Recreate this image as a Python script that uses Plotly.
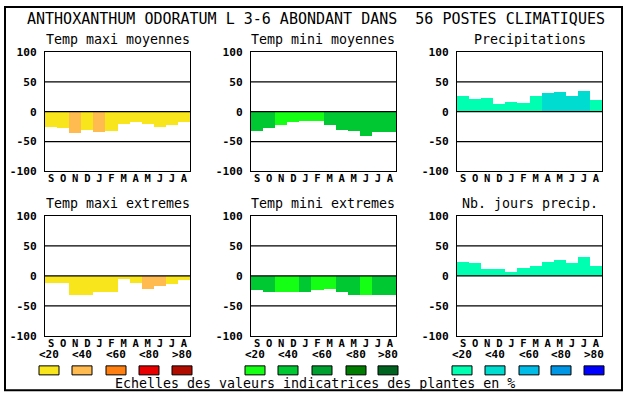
import plotly.graph_objects as go

# ---------------- data ----------------
MONTHS = ["S", "O", "N", "D", "J", "F", "M", "A", "M", "J", "J", "A"]
TITLE = "ANTHOXANTHUM ODORATUM L 3-6 ABONDANT DANS  56 POSTES CLIMATIQUES"
PANEL_TITLES = ["Temp maxi moyennes", "Temp mini moyennes", "Precipitations",
                "Temp maxi extremes", "Temp mini extremes", "Nb. jours precip."]

TMAX_MOY = [-25, -28, -36, -31, -34, -32, -21, -18, -21, -25, -22, -18]
TMAX_MOY_CLS = [0, 0, 1, 0, 1, 0, 0, 0, 0, 0, 0, 0]
TMIN_MOY = [-33, -28, -23, -18, -15, -16, -23, -31, -33, -41, -34, -34]
TMIN_MOY_CLS = [1, 1, 0, 0, 0, 0, 1, 1, 1, 1, 1, 1]
PRECIP = [27, 22, 23, 13, 17, 15, 27, 32, 33, 27, 35, 20]
PRECIP_CLS = [0, 0, 0, 0, 0, 0, 0, 1, 1, 1, 1, 0]
TMAX_EXT = [-11, -12, -31, -32, -26, -26, -5, -12, -21, -16, -14, -7]
TMAX_EXT_CLS = [0, 0, 0, 0, 0, 0, 0, 0, 1, 1, 0, 0]
TMIN_EXT = [-24, -26, -27, -26, -27, -24, -22, -27, -31, -32, -32, -31]
TMIN_EXT_CLS = [1, 1, 0, 0, 1, 0, 0, 1, 1, 0, 1, 1]
NB_JOURS = [23, 21, 12, 12, 7, 14, 16, 24, 26, 21, 31, 16]
NB_JOURS_CLS = [0, 0, 0, 0, 0, 0, 0, 0, 0, 0, 0, 0]

Y_TICKS = [-100, -50, 0, 50, 100]
Y_TICK_TEXT = ["-100", "-50", "0", "50", "100"]
GRID_LINES = [-50, 0, 50]

CLASS_LABELS = ["<20", "<40", "<60", "<80", ">80"]
YELLOWS = ["#f8e51c", "#ffbb50", "#ff8010", "#e80000", "#b00c00"]
GREENS = ["#14ff14", "#00c832", "#00a030", "#007d00", "#006420"]
BLUES = ["#00ffb0", "#00dcd0", "#00bce6", "#0096e6", "#0000ff"]
FOOTER = "Echelles des valeurs indicatrices des plantes en %"

# ---------------- layout helpers ----------------
W, H = 630, 402          # figure size in page pixels
V_SCALE, V_OFF = 0.968, 4.5   # observed page->picture vertical mapping
MONO = "DejaVu Sans Mono"

def fx(px):
    return px / W

def fy(py):
    # py: wanted vertical position in the final picture
    page_y = (py - V_OFF) / V_SCALE
    return 1 - page_y / H

COLS = [(45, 190), (251, 396), (457, 602)]
ROWS = [(50.5, 170), (214.5, 334.5)]

panels = [
    (TMAX_MOY, TMAX_MOY_CLS, YELLOWS),
    (TMIN_MOY, TMIN_MOY_CLS, GREENS),
    (PRECIP, PRECIP_CLS, BLUES),
    (TMAX_EXT, TMAX_EXT_CLS, YELLOWS),
    (TMIN_EXT, TMIN_EXT_CLS, GREENS),
    (NB_JOURS, NB_JOURS_CLS, BLUES),
]

fig = go.Figure()
shapes = []
annotations = []
xs = list(range(len(MONTHS)))

for i, (vals, cls, pal) in enumerate(panels):
    n = i + 1
    r, c = divmod(i, 3)
    xa = "x" if n == 1 else f"x{n}"
    ya = "y" if n == 1 else f"y{n}"
    fig.add_trace(go.Bar(
        x=xs, y=vals, width=1.0,
        marker=dict(color=[pal[k] for k in cls], line=dict(width=0)),
        xaxis=xa, yaxis=ya, showlegend=False, hoverinfo="skip",
    ))
    x0, x1 = COLS[c]
    y0, y1 = ROWS[r]
    common = dict(showline=True, mirror=True, linecolor="black", linewidth=1.2,
                  showgrid=False, zeroline=False, fixedrange=True)
    fig.layout[f"xaxis{'' if n == 1 else n}"] = dict(
        domain=[fx(x0), fx(x1)], range=[-0.5, len(MONTHS) - 0.5],
        anchor=ya, tickvals=xs, ticktext=MONTHS, ticks="", ticklabelstandoff=-3,
        tickfont=dict(family=MONO, size=10.5, color="black", weight="bold"),
        **common)
    fig.layout[f"yaxis{'' if n == 1 else n}"] = dict(
        domain=[fy(y1), fy(y0)], range=[-100, 100], anchor=xa,
        tickvals=Y_TICKS, ticktext=Y_TICK_TEXT,
        ticks="outside", ticklen=5, tickcolor="rgba(0,0,0,0)",
        tickfont=dict(family=MONO, size=11.2, color="black", weight="bold"),
        **common)
    for g in GRID_LINES:
        shapes.append(dict(type="line", xref=f"{xa} domain", yref=ya,
                           x0=0, x1=1, y0=g, y1=g, layer="above",
                           line=dict(color="black", width=1.2)))
    annotations.append(dict(
        text=PANEL_TITLES[i], xref="paper", yref="paper",
        x=fx((x0 + x1) / 2), y=fy(y0 - 12.5), xanchor="center", yanchor="middle",
        showarrow=False, font=dict(family=MONO, size=13.3, color="black")))

# main title
annotations.append(dict(
    text=TITLE, xref="paper", yref="paper", x=fx(315.5), y=fy(18),
    xanchor="center", yanchor="middle", showarrow=False,
    font=dict(family=MONO, size=15, color="black")))

# legend scales
SWATCH_X = [[39, 72, 106, 139, 172], [245, 278, 312, 346, 378], [452, 485, 519, 551, 584]]
for pal, sx in zip([YELLOWS, GREENS, BLUES], SWATCH_X):
    for k, (col, lab) in enumerate(zip(pal, CLASS_LABELS)):
        shapes.append(dict(type="rect", xref="paper", yref="paper",
                           x0=fx(sx[k]), x1=fx(sx[k] + 20), y0=fy(373.5), y1=fy(364.5),
                           fillcolor=col, line=dict(color="black", width=1)))
        annotations.append(dict(
            text=lab, xref="paper", yref="paper", x=fx(sx[k] + 10), y=fy(353),
            xanchor="center", yanchor="middle", showarrow=False,
            font=dict(family=MONO, size=11, color="black", weight="bold")))

annotations.append(dict(
    text=FOOTER, xref="paper", yref="paper", x=fx(314.5), y=fy(382),
    xanchor="center", yanchor="middle", showarrow=False,
    font=dict(family=MONO, size=13.3, color="black")))

# outer frame
shapes.append(dict(type="rect", xref="paper", yref="paper",
                   x0=fx(5), x1=fx(622), y0=fy(389), y1=fy(5.5),
                   line=dict(color="black", width=2), fillcolor="rgba(0,0,0,0)"))

fig.update_layout(
    width=W, height=H, autosize=False,
    margin=dict(l=0, r=0, t=0, b=0),
    paper_bgcolor="white", plot_bgcolor="white",
    bargap=0, shapes=shapes, annotations=annotations,
    font=dict(family=MONO, color="black"),
)

fig.write_html("out.html", config={"displayModeBar": False},
               post_script="document.body.style.margin='0';document.body.style.overflow='hidden';")
